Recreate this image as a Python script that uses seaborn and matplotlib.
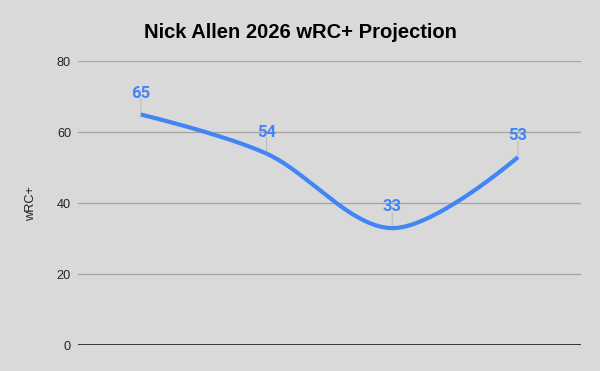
import numpy as np
import pandas as pd
import matplotlib
matplotlib.use("Agg")
import matplotlib.pyplot as plt
import seaborn as sns

# ---- data ----
categories = ["P1", "P2", "P3", "P4"]
wrc_plus = [65, 54, 33, 53]
y_ticks = [0, 20, 40, 60, 80]
title = "Nick Allen 2026 wRC+ Projection"
y_label = "wRC+"

BG = "#d9d9d9"
LINE = "#4285f4"

sns.set_theme(style="white")
plt.rcParams["font.family"] = ["Liberation Sans", "DejaVu Sans"]


def smooth_curve(xs, ys, k=1 / 6, n=60):
    pts = np.column_stack([xs, ys]).astype(float)
    out = []
    for i in range(len(pts) - 1):
        p0, p1 = pts[i], pts[i + 1]
        c1 = p0 + (p1 - pts[i - 1]) * k if i > 0 else p0
        c2 = p1 - (pts[i + 2] - p0) * k if i + 2 < len(pts) else p1
        t = np.linspace(0, 1, n)[:, None]
        if i > 0:
            t = t[1:]
        b = ((1 - t) ** 3) * p0 + 3 * ((1 - t) ** 2) * t * c1 + 3 * (1 - t) * t ** 2 * c2 + t ** 3 * p1
        out.append(b)
    return np.vstack(out)


xpos = np.arange(len(categories))
curve = smooth_curve(xpos, wrc_plus)
df_curve = pd.DataFrame({"x": curve[:, 0], "y": curve[:, 1]})

fig = plt.figure(figsize=(6.0, 3.71), dpi=100, facecolor=BG)
ax = fig.add_axes([0.13, 0.0693, 0.838, 0.7655])
ax.set_facecolor(BG)

for v in y_ticks[1:]:
    ax.axhline(v, color="#a3a3a3", lw=0.9, zorder=1)
ax.axhline(0, color="#1a1a1a", lw=1.2, zorder=2)

sns.lineplot(data=df_curve, x="x", y="y", sort=False, estimator=None,
             color=LINE, lw=3.0, ax=ax, zorder=4,
             solid_capstyle="butt")

# data labels with leader lines
for x, v in zip(xpos, wrc_plus):
    ax.annotate("", xy=(x, v), xytext=(0, 16), textcoords="offset pixels",
                arrowprops=dict(arrowstyle="-", color="#bdbdbd", lw=0.8,
                                shrinkA=0, shrinkB=0), zorder=3)
    ax.annotate(str(v), xy=(x, v), xytext=(0, 17), textcoords="offset pixels",
                ha="center", va="baseline", color=LINE, fontsize=12,
                fontweight="bold", family=["Roboto", "DejaVu Sans"], zorder=5)

ax.set_xlim(-0.5, len(categories) - 0.5)
ax.set_ylim(0, 80)
ax.set_yticks(y_ticks)
ax.set_yticklabels([str(t) for t in y_ticks])
ax.set_xticks([])
ax.tick_params(axis="y", length=0, pad=5, labelsize=9.2, labelcolor="#222222")
for s in ax.spines.values():
    s.set_visible(False)
ax.set_xlabel("")
ax.set_ylabel(y_label, fontsize=9.2, color="#222222")
ax.yaxis.set_label_coords(-0.081, 0.5)

fig.text(0.5, (371 - 38.5) / 371, title, ha="center", va="baseline",
         fontsize=14.5, fontweight="bold", color="#000000")

fig.savefig("out.png", dpi=100, facecolor=BG)
